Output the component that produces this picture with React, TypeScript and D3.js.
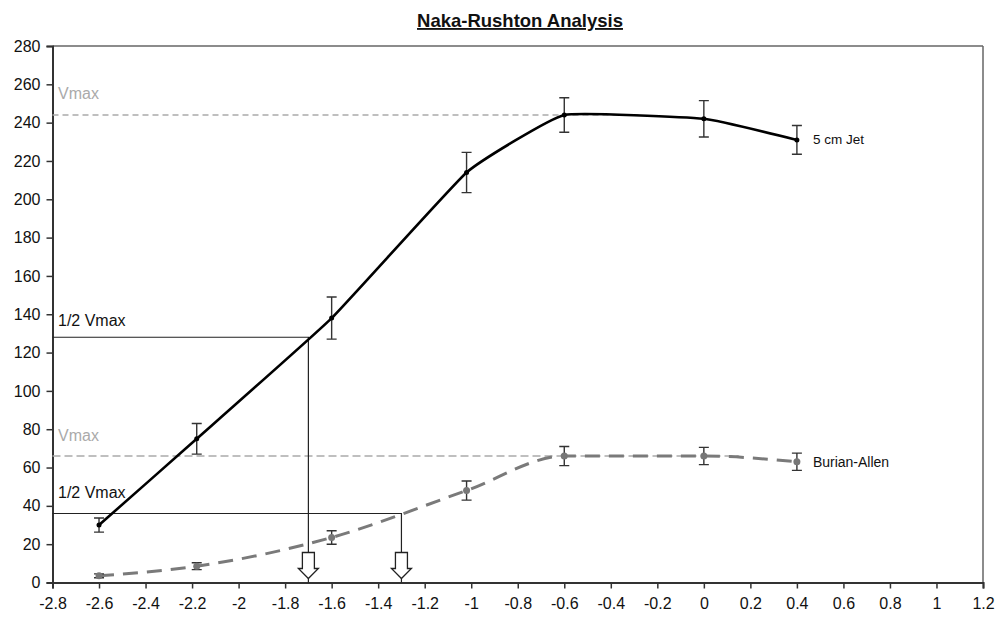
import React, { useEffect, useRef } from "react";
import * as d3 from "d3";

// log intensity values
const jetX = [-2.6, -2.18, -1.6, -1.02, -0.6, 0, 0.4];
const jetY = [30, 75, 138, 214, 244, 242, 231];
const jetErr = [3.7, 8, 11, 10.5, 9, 9.5, 7.5];

const baX = [-2.6, -2.18, -1.6, -1.02, -0.6, 0, 0.4];
const baY = [3.5, 8.5, 23.5, 48, 66, 66, 63];
const baErr = [1, 1.8, 3.5, 5, 5, 4.5, 4.5];

const xTicks = d3.range(-2.8, 1.21, 0.2).map((v) => Math.round(v * 10) / 10);
const yTicks = d3.range(0, 281, 20);

// annotation values
const jetVmax = 244;
const jetHalf = 128;
const jetHalfX = -1.7;
const baVmax = 66;
const baHalf = 36;
const baHalfX = -1.3;

const FONT = "'Liberation Sans', Arial, Helvetica, sans-serif";

export default function App() {
  const ref = useRef<SVGSVGElement>(null);

  useEffect(() => {
    const svg = d3.select(ref.current);
    svg.selectAll("*").remove();

    const left = 52.5, right = 983, top = 46, bottom = 582.5;
    const x = d3.scaleLinear().domain([-2.8, 1.2]).range([left, right]);
    const y = d3.scaleLinear().domain([0, 280]).range([bottom, top]);

    const g = svg.append("g").attr("font-family", FONT);

    // title
    g.append("text")
      .attr("x", 520).attr("y", 27)
      .attr("text-anchor", "middle")
      .attr("font-size", 18.5).attr("font-weight", "bold")
      .attr("fill", "#111")
      .attr("text-decoration", "underline")
      .text("Naka-Rushton Analysis");

    // frame (top and right)
    g.append("line").attr("x1", left).attr("x2", right).attr("y1", top).attr("y2", top)
      .attr("stroke", "#666").attr("stroke-width", 1.5);
    g.append("line").attr("x1", right).attr("x2", right).attr("y1", top).attr("y2", bottom)
      .attr("stroke", "#666").attr("stroke-width", 1.5);

    // y axis
    const yAxis = g.append("g").attr("transform", `translate(${left},0)`)
      .call(d3.axisLeft(y).tickValues(yTicks).tickSize(6).tickPadding(6).tickFormat(d3.format("d")));
    yAxis.select(".domain").attr("stroke", "#333").attr("stroke-width", 2);
    yAxis.selectAll(".tick line").attr("stroke", "#333").attr("stroke-width", 1.5);
    yAxis.selectAll("text").attr("font-size", 16).attr("fill", "#111").attr("font-family", FONT);

    // x axis
    const xAxis = g.append("g").attr("transform", `translate(0,${bottom})`)
      .call(d3.axisBottom(x).tickValues(xTicks).tickSize(6).tickPadding(9).tickFormat((d) => String(d)));
    xAxis.select(".domain").attr("stroke", "#333").attr("stroke-width", 2);
    xAxis.selectAll(".tick line").attr("stroke", "#333").attr("stroke-width", 1.5);
    xAxis.selectAll("text").attr("font-size", 16).attr("fill", "#111").attr("font-family", FONT);

    // Vmax dashed reference lines
    g.append("line").attr("x1", left).attr("x2", x(-0.27)).attr("y1", y(jetVmax)).attr("y2", y(jetVmax))
      .attr("stroke", "#aaa").attr("stroke-width", 1.5).attr("stroke-dasharray", "6,4");
    g.append("line").attr("x1", left).attr("x2", x(0.15)).attr("y1", y(baVmax)).attr("y2", y(baVmax))
      .attr("stroke", "#aaa").attr("stroke-width", 1.5).attr("stroke-dasharray", "8,4");

    // half-Vmax lines
    const half = (hy: number, hx: number) => {
      g.append("path")
        .attr("d", `M${left},${y(hy)}H${x(hx)}V${bottom}`)
        .attr("fill", "none").attr("stroke", "#222").attr("stroke-width", 1.2);
    };
    half(jetHalf, jetHalfX);
    half(baHalf, baHalfX);

    // labels
    const label = (t: string, vy: number, col: string) =>
      g.append("text").attr("x", 58).attr("y", y(vy)).attr("font-size", 16).attr("fill", col).text(t);
    label("Vmax", 252.5, "#aaa");
    label("1/2 Vmax", 134, "#111");
    label("Vmax", 74, "#aaa");
    label("1/2 Vmax", 44, "#111");

    // hollow arrows
    const arrow = (hx: number) => {
      const cx = x(hx);
      const t0 = bottom - 30, hb = bottom - 14, tip = bottom - 4;
      g.append("path")
        .attr("d", `M${cx - 6},${t0}H${cx + 6}V${hb}H${cx + 10}L${cx},${tip}L${cx - 10},${hb}H${cx - 6}Z`)
        .attr("fill", "#fff").attr("stroke", "#222").attr("stroke-width", 1.3);
    };
    arrow(jetHalfX);
    arrow(baHalfX);

    const errBars = (xs: number[], ys: number[], es: number[], col: string) => {
      xs.forEach((v, i) => {
        const cx = x(v), y1 = y(ys[i] + es[i]), y2 = y(ys[i] - es[i]);
        g.append("path").attr("d", `M${cx},${y1}V${y2}M${cx - 5},${y1}H${cx + 5}M${cx - 5},${y2}H${cx + 5}`)
          .attr("stroke", col).attr("stroke-width", 1.4).attr("fill", "none");
      });
    };

    // Burian-Allen series
    const baPts = baX.map((v, i) => [v, baY[i]] as [number, number]);
    g.append("path").datum(baPts)
      .attr("d", d3.line<[number, number]>().x((d) => x(d[0])).y((d) => y(d[1])).curve(d3.curveMonotoneX))
      .attr("fill", "none").attr("stroke", "#7a7a7a").attr("stroke-width", 3)
      .attr("stroke-dasharray", "15,9");
    errBars(baX, baY, baErr, "#333");
    g.selectAll(".baDot").data(baPts).join("circle")
      .attr("cx", (d) => x(d[0])).attr("cy", (d) => y(d[1])).attr("r", 3.5).attr("fill", "#777");

    // 5 cm Jet series
    const jetPts = jetX.map((v, i) => [v, jetY[i]] as [number, number]);
    g.append("path").datum(jetPts)
      .attr("d", d3.line<[number, number]>().x((d) => x(d[0])).y((d) => y(d[1])).curve(d3.curveCardinal.tension(0.65)))
      .attr("fill", "none").attr("stroke", "#000").attr("stroke-width", 2.6);
    errBars(jetX, jetY, jetErr, "#333");
    g.selectAll(".jetDot").data(jetPts).join("circle")
      .attr("cx", (d) => x(d[0])).attr("cy", (d) => y(d[1])).attr("r", 2.5).attr("fill", "#000");

    // series labels
    g.append("text").attr("x", x(0.4) + 16).attr("y", y(jetY[6]) + 4)
      .attr("font-size", 13.5).attr("fill", "#111").text("5 cm Jet");
    g.append("text").attr("x", x(0.4) + 16).attr("y", y(baY[6]) + 5)
      .attr("font-size", 14).attr("fill", "#111").text("Burian-Allen");
  }, []);

  return (
    <svg ref={ref} width={998} height={617}
      style={{ position: "absolute", left: 0, top: 0, background: "#fff" }} />
  );
}
